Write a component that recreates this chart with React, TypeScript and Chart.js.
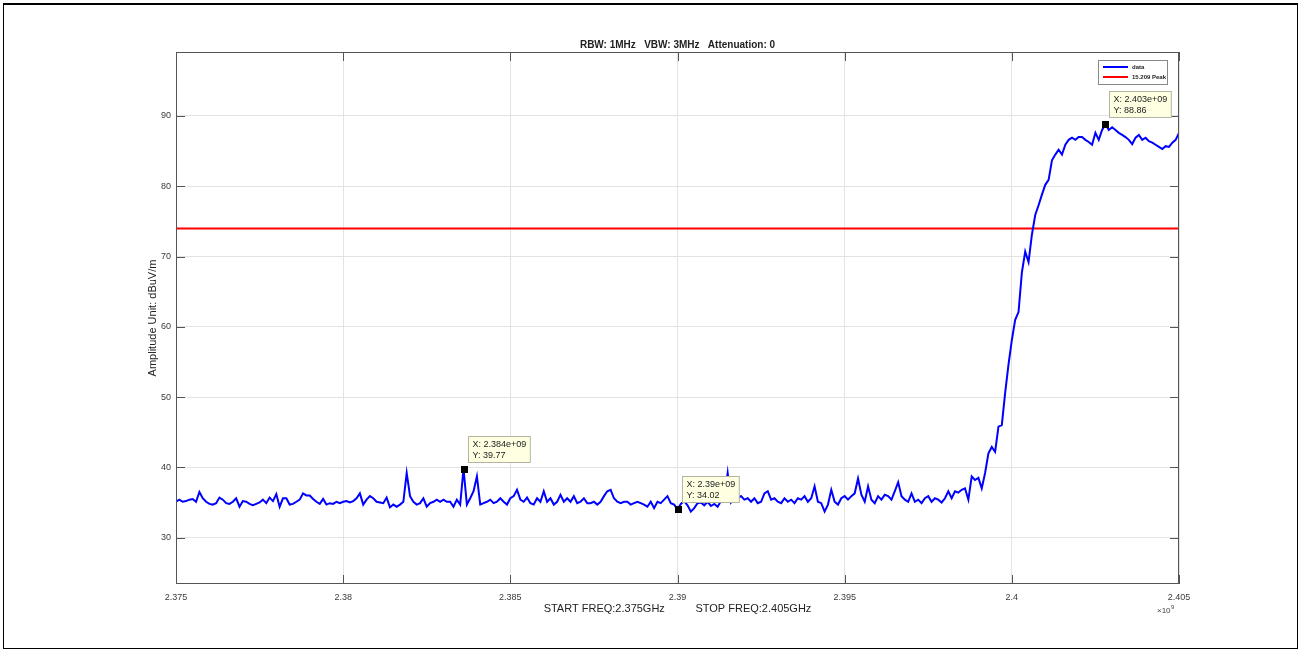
import React, { useEffect, useRef } from 'react';
import { Chart, registerables } from 'chart.js';

Chart.register(...registerables);

const FONT = '"Liberation Sans", Arial, Helvetica, sans-serif';

// Sweep definition (GHz, axis shows ×10^9)
const START_FREQ = 2.375;
const STOP_FREQ = 2.405;

// Measured amplitude (dBuV/m), 301 sweep points
const amplitude: number[] = [
  35.1, 35.4, 35.1, 35.2, 35.4, 35.5, 35.1, 36.5, 35.6, 35.1,
  34.8, 34.7, 34.9, 35.7, 35.4, 34.9, 34.8, 35.1, 35.6, 34.4,
  35.2, 35.1, 34.8, 34.6, 34.8, 35.0, 35.4, 34.9, 35.7, 35.2,
  36.2, 34.4, 35.6, 35.6, 34.7, 34.8, 35.1, 35.4, 36.3, 36.0,
  36.0, 35.5, 35.1, 34.8, 35.5, 34.7, 34.9, 34.8, 35.1, 34.9,
  35.1, 35.2, 35.0, 35.2, 35.6, 36.3, 34.7, 35.4, 35.9, 35.6,
  35.1, 35.0, 34.9, 35.7, 34.3, 34.7, 34.4, 34.7, 35.1, 39.2,
  35.9, 35.1, 34.7, 34.9, 35.6, 34.4, 34.9, 35.1, 35.4, 35.1,
  35.4, 35.1, 35.1, 34.4, 35.4, 34.7, 39.77, 34.7, 35.6, 36.6,
  38.7, 34.7, 34.9, 35.1, 35.4, 34.9, 35.1, 35.6, 35.1, 34.7,
  35.6, 35.9, 36.8, 35.4, 35.1, 35.7, 34.9, 34.7, 35.6, 35.1,
  36.6, 35.1, 35.6, 34.7, 35.1, 36.1, 35.1, 35.6, 35.1, 35.9,
  34.9, 35.1, 35.6, 34.9, 34.9, 35.1, 34.7, 35.1, 35.9, 36.6,
  36.8, 35.6, 35.1, 34.9, 35.1, 35.1, 34.7, 34.9, 35.1, 34.9,
  34.7, 34.4, 35.1, 34.2, 35.1, 34.9, 35.4, 35.9, 34.9, 34.7,
  34.02, 34.8, 35.2, 34.6, 33.7, 34.2, 34.9, 35.0, 34.6, 35.1,
  34.5, 34.8, 34.4, 35.2, 35.6, 39.2, 35.0, 35.6, 35.6, 35.9,
  35.4, 35.6, 35.1, 35.6, 34.9, 35.1, 36.3, 36.6, 35.4, 35.6,
  35.1, 34.9, 35.6, 35.1, 35.4, 34.9, 35.6, 35.4, 35.9, 35.1,
  35.6, 37.3, 35.1, 34.9, 33.7, 34.7, 36.8, 35.1, 34.7, 35.6,
  35.9, 35.4, 35.9, 36.3, 38.4, 36.1, 35.1, 37.3, 35.4, 34.9,
  35.9, 35.4, 36.1, 35.9, 35.4, 36.6, 37.9, 35.9, 35.4, 35.1,
  36.3, 35.1, 35.4, 34.9, 35.6, 35.9, 35.1, 35.6, 35.4, 35.0,
  35.6, 36.6, 35.6, 36.6, 36.4, 36.8, 37.0, 35.4, 38.7, 38.2,
  38.5, 37.0, 39.2, 42.0, 42.9, 42.2, 45.8, 46.0, 50.6, 54.6,
  58.1, 61.0, 62.1, 67.7, 70.7, 69.2, 73.1, 75.9, 77.3, 78.8,
  80.2, 80.9, 83.7, 84.5, 85.2, 84.5, 85.9, 86.6, 86.9, 86.6,
  87.0, 87.0, 86.6, 86.3, 85.9, 87.6, 86.6, 88.0, 88.86, 88.0,
  88.4, 88.0, 87.6, 87.3, 87.0, 86.6, 86.0, 86.9, 87.3, 86.6,
  86.9, 86.4, 86.2, 85.9, 85.6, 85.3, 85.7, 85.6, 86.2, 86.6,
  87.6,
];

const limitLevel = 74; // 15.209 Peak limit
const seriesLabels = ['data', '15.209 Peak'];
const seriesColors = ['#0000ff', '#ff0000'];

const yTickValues = [30, 40, 50, 60, 70, 80, 90];
const xTickValues = [2.375, 2.38, 2.385, 2.39, 2.395, 2.4, 2.405];
const xTickLabels = ['2.375', '2.38', '2.385', '2.39', '2.395', '2.4', '2.405'];
const Y_MIN = 23.4;
const Y_MAX = 99.1;

const tipX = [2.3836, 2.39, 2.4028];
const tipY = [39.77, 34.02, 88.86];
const tipXText = ['X: 2.384e+09', 'X: 2.39e+09', 'X: 2.403e+09'];
const tipYText = ['Y: 39.77', 'Y: 34.02', 'Y: 88.86'];

const titleText = 'RBW: 1MHz   VBW: 3MHz   Attenuation: 0';
const xTitleText = 'START FREQ:2.375GHz          STOP FREQ:2.405GHz';
const yTitleText = 'Amplitude Unit: dBuV/m';

const decorPlugin = {
  id: 'decor',
  afterDatasetsDraw(chart: any) {
    const { ctx, chartArea: a, scales } = chart;
    const xs = scales.x;
    const ys = scales.y;
    ctx.save();

    // axes box
    ctx.strokeStyle = '#555';
    ctx.lineWidth = 1;
    ctx.strokeRect(a.left + 0.5, a.top + 0.5, a.right - a.left - 1, a.bottom - a.top - 1);

    // inward tick marks on all four sides
    const TL = 9;
    ctx.beginPath();
    for (const t of xs.ticks) {
      const px = Math.round(xs.getPixelForValue(t.value)) + 0.5;
      ctx.moveTo(px, a.bottom);
      ctx.lineTo(px, a.bottom - TL);
      ctx.moveTo(px, a.top);
      ctx.lineTo(px, a.top + TL);
    }
    for (const t of ys.ticks) {
      const py = Math.round(ys.getPixelForValue(t.value)) + 0.5;
      ctx.moveTo(a.left, py);
      ctx.lineTo(a.left + TL, py);
      ctx.moveTo(a.right, py);
      ctx.lineTo(a.right - TL, py);
    }
    ctx.stroke();

    // data tips
    ctx.font = `9px ${FONT}`;
    for (let i = 0; i < tipX.length; i++) {
      const px = xs.getPixelForValue(tipX[i]);
      const py = ys.getPixelForValue(tipY[i]);
      const w = Math.max(ctx.measureText(tipXText[i]).width, ctx.measureText(tipYText[i]).width) + 8;
      const h = 26;
      const bx = Math.round(px + 4) + 0.5;
      const by = Math.round(py - 7 - h) + 0.5;
      ctx.fillStyle = '#ffffe1';
      ctx.strokeStyle = '#b4b4a0';
      ctx.fillRect(bx, by, w, h);
      ctx.strokeRect(bx, by, w, h);
      ctx.fillStyle = '#222';
      ctx.textAlign = 'left';
      ctx.textBaseline = 'middle';
      ctx.fillText(tipXText[i], bx + 4, by + 8);
      ctx.fillText(tipYText[i], bx + 4, by + 19);
      ctx.fillStyle = '#000';
      ctx.fillRect(Math.round(px) - 3, Math.round(py) - 3, 7, 7);
    }

    // legend box
    const lx = a.right - 81;
    const ly = a.top + 8;
    ctx.fillStyle = '#fff';
    ctx.strokeStyle = '#888';
    ctx.fillRect(lx + 0.5, ly + 0.5, 69, 24);
    ctx.strokeRect(lx + 0.5, ly + 0.5, 69, 24);
    ctx.font = `bold 6px ${FONT}`;
    ctx.textBaseline = 'middle';
    ctx.textAlign = 'left';
    for (let i = 0; i < seriesLabels.length; i++) {
      const yy = ly + 7 + i * 10;
      ctx.strokeStyle = seriesColors[i];
      ctx.lineWidth = 2;
      ctx.beginPath();
      ctx.moveTo(lx + 5, yy);
      ctx.lineTo(lx + 30, yy);
      ctx.stroke();
      ctx.fillStyle = '#222';
      ctx.fillText(seriesLabels[i], lx + 34, yy);
    }

    // exponent label
    ctx.fillStyle = '#444';
    ctx.font = `8px ${FONT}`;
    ctx.textBaseline = 'alphabetic';
    ctx.textAlign = 'left';
    ctx.fillText('\u00d710', a.right - 22, a.bottom + 29);
    ctx.font = `6px ${FONT}`;
    ctx.fillText('9', a.right - 8, a.bottom + 25);

    ctx.restore();
  },
};

export default function App() {
  const ref = useRef<HTMLCanvasElement | null>(null);

  useEffect(() => {
    if (!ref.current) return;
    const step = (STOP_FREQ - START_FREQ) / (amplitude.length - 1);
    const dataPts = amplitude.map((v, i) => ({ x: START_FREQ + i * step, y: v }));
    const limitPts = [
      { x: START_FREQ, y: limitLevel },
      { x: STOP_FREQ, y: limitLevel },
    ];
    const tickColor = '#3a3a3a';
    const chart = new Chart(ref.current, {
      type: 'line',
      data: {
        datasets: [
          {
            label: seriesLabels[0],
            data: dataPts,
            borderColor: seriesColors[0],
            borderWidth: 2,
            pointRadius: 0,
            tension: 0,
            fill: false,
          },
          {
            label: seriesLabels[1],
            data: limitPts,
            borderColor: seriesColors[1],
            borderWidth: 2,
            pointRadius: 0,
            tension: 0,
            fill: false,
          },
        ],
      },
      options: {
        responsive: false,
        animation: false,
        devicePixelRatio: 1,
        layout: { padding: { left: 146, right: 123, top: 38, bottom: 38 } },
        plugins: {
          legend: { display: false },
          tooltip: { enabled: false },
          title: {
            display: true,
            fullSize: false,
            text: titleText,
            color: '#222',
            font: { family: FONT, size: 10, weight: 'bold' },
            padding: { top: 1, bottom: 1 },
          },
        },
        scales: {
          x: {
            type: 'linear',
            min: START_FREQ,
            max: STOP_FREQ,
            afterBuildTicks: (s: any) => {
              s.ticks = xTickValues.map((v) => ({ value: v }));
            },
            afterFit: (s: any) => {
              s.height = 32;
            },
            ticks: {
              autoSkip: false,
              maxRotation: 0,
              padding: 8,
              color: tickColor,
              font: { family: FONT, size: 9 },
              callback: (v: any) => {
                const idx = xTickValues.findIndex((t) => Math.abs(t - Number(v)) < 1e-9);
                return idx >= 0 ? xTickLabels[idx] : '';
              },
            },
            grid: { color: '#e3e3e3', drawTicks: false },
            border: { display: false },
            title: {
              display: true,
              text: xTitleText,
              color: '#222',
              font: { family: FONT, size: 11 },
              padding: { top: 0, bottom: 0 },
            },
          },
          y: {
            type: 'linear',
            min: Y_MIN,
            max: Y_MAX,
            afterBuildTicks: (s: any) => {
              s.ticks = yTickValues.map((v) => ({ value: v }));
            },
            afterFit: (s: any) => {
              s.width = 30;
            },
            ticks: {
              padding: 5,
              color: tickColor,
              font: { family: FONT, size: 9 },
              callback: (v: any) => String(v),
            },
            grid: { color: '#e3e3e3', drawTicks: false },
            border: { display: false },
            title: {
              display: true,
              text: yTitleText,
              color: '#222',
              font: { family: FONT, size: 11 },
              padding: { top: 0, bottom: 0 },
            },
          },
        },
      },
      plugins: [decorPlugin],
    });
    return () => chart.destroy();
  }, []);

  return (
    <div style={{ position: 'fixed', left: 0, top: 0, width: 1302, height: 654, background: '#fff' }}>
      <canvas ref={ref} width={1302} height={654} style={{ position: 'absolute', left: 0, top: 0 }} />
      <div
        style={{
          position: 'absolute',
          left: 3,
          top: 3,
          width: 1295,
          height: 646,
          border: '1px solid #000',
          borderTopWidth: 2,
          boxSizing: 'border-box',
          pointerEvents: 'none',
        }}
      />
    </div>
  );
}
